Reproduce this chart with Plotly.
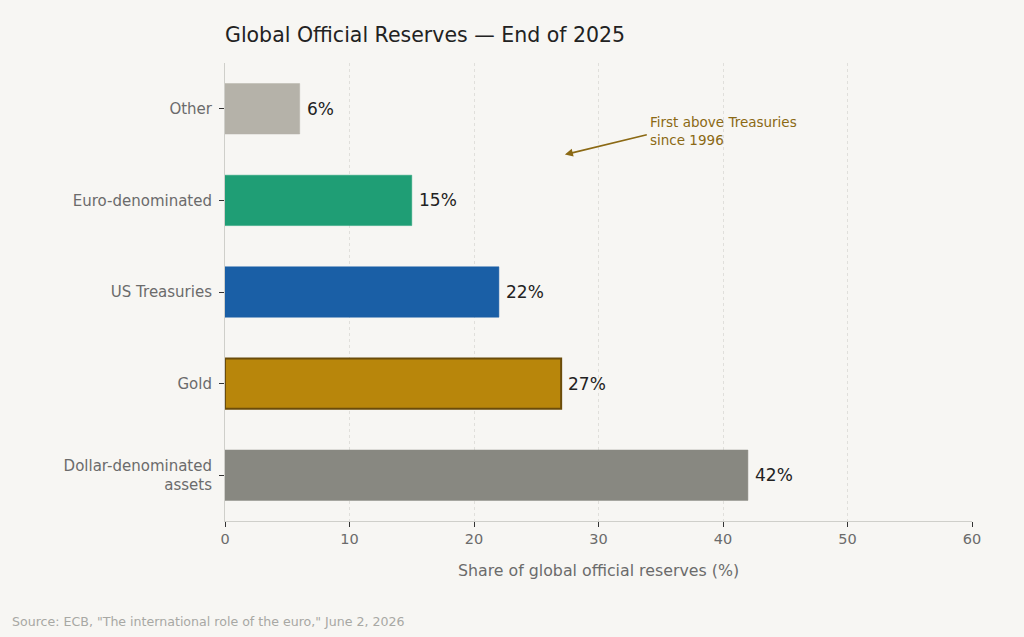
import plotly.graph_objects as go

categories = ["Dollar-denominated<br>assets", "Gold", "US Treasuries", "Euro-denominated", "Other"]
values = [42, 27, 22, 15, 6]
labels = ["42%", "27%", "22%", "15%", "6%"]
colors = ["#888881", "#b8860b", "#1a5fa6", "#1f9e75", "#b5b2a9"]
edge_colors = ["#888881", "#6b4c0a", "#1a5fa6", "#1f9e75", "#b5b2a9"]
edge_widths = [0.5, 2, 0.5, 0.5, 0.5]
x_ticks = [0, 10, 20, 30, 40, 50, 60]

font = "DejaVu Sans"

fig = go.Figure()
fig.add_trace(go.Bar(
    y=categories,
    x=values,
    orientation="h",
    width=0.55,
    marker=dict(color=colors, line=dict(color=edge_colors, width=edge_widths)),
    hoverinfo="skip",
))

for cat, val, lab in zip(categories, values, labels):
    fig.add_annotation(
        x=val, y=cat, xref="x", yref="y", text=lab, showarrow=False,
        xanchor="left", yanchor="middle", xshift=5,
        font=dict(family=font, size=17, color="#222222"),
    )

fig.add_annotation(
    x=27.3, y=3.5, xref="x", yref="y",
    ax=34.0, ay=3.72, axref="x", ayref="y",
    text="", showarrow=True, arrowhead=2, arrowsize=1, arrowwidth=1.6,
    arrowcolor="#8b6914",
)
fig.add_annotation(
    x=34.0, y=3.76, xref="x", yref="y",
    text="First above Treasuries<br>since 1996", showarrow=False,
    xanchor="left", yanchor="middle", align="left",
    font=dict(family=font, size=13.5, color="#8b6914"),
)
fig.add_annotation(
    x=(10 - 225) / 747, y=(637 - 116 - 621) / 458, xref="paper", yref="paper",
    text='Source: ECB, "The international role of the euro," June 2, 2026',
    showarrow=False, xanchor="left", yanchor="middle",
    font=dict(family=font, size=12.6, color="#a8a8a4"),
)

fig.update_layout(
    width=1024, height=637,
    margin=dict(l=225, r=52, t=63, b=116),
    paper_bgcolor="#f7f6f3",
    plot_bgcolor="#f7f6f3",
    showlegend=False,
    title=dict(text="Global Official Reserves — End of 2025", x=225/1024, xanchor="left",
               y=1 - 35/637, yanchor="middle",
               font=dict(family=font, size=20.5, color="#222222")),
    xaxis=dict(
        range=[0, 60], tickvals=x_ticks, ticktext=[str(t) for t in x_ticks],
        showgrid=True, gridcolor="#e0dfdb", griddash="dot", gridwidth=1,
        showline=True, linecolor="#cfcfca", linewidth=1,
        ticks="outside", ticklen=5, tickcolor="#333333",
        tickfont=dict(family=font, size=14.5, color="#6b6b6b"),
        title=dict(text="Share of global official reserves (%)", standoff=18,
                   font=dict(family=font, size=15.8, color="#6b6b6b")),
        zeroline=False, fixedrange=True,
    ),
    yaxis=dict(
        range=[-0.5, 4.5],
        showgrid=False,
        showline=True, linecolor="#cfcfca", linewidth=1,
        ticks="outside", ticklen=5, tickcolor="#333333",
        ticklabelstandoff=4,
        tickfont=dict(family=font, size=15, color="#6b6b6b"),
        zeroline=False, fixedrange=True,
    ),
)

fig.write_html("out.html")
